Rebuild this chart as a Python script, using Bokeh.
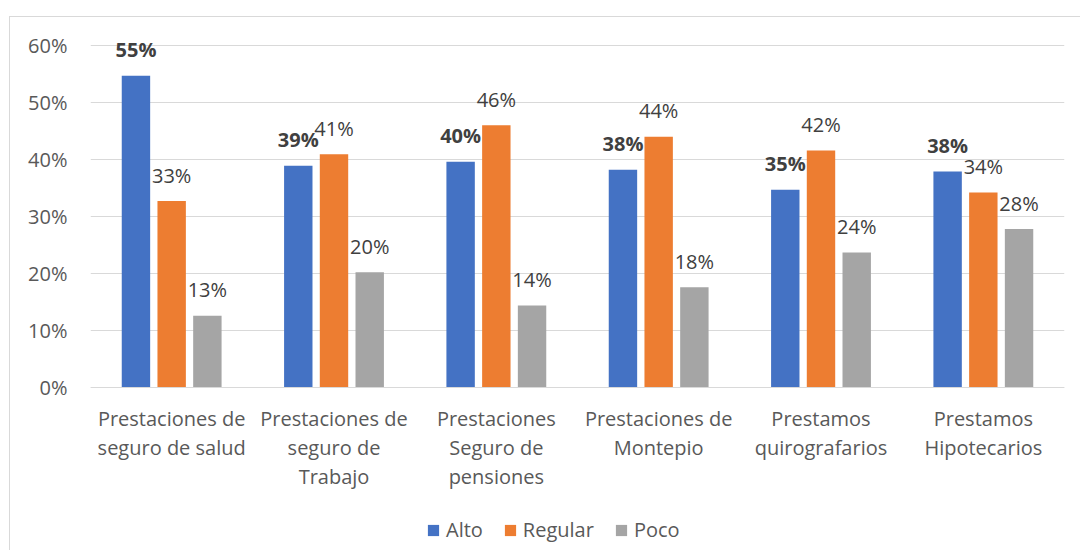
from bokeh.plotting import figure
from bokeh.models import FactorRange, Range1d, NumeralTickFormatter, FixedTicker, Legend, LegendItem, ColumnDataSource, Span
from bokeh.transform import dodge
from bokeh.core.properties import value
from bokeh.embed import file_html
from bokeh.resources import INLINE

categories = [
    "Prestaciones de seguro de salud",
    "Prestaciones de seguro de Trabajo",
    "Prestaciones Seguro de pensiones",
    "Prestaciones de Montepio",
    "Prestamos quirografarios",
    "Prestamos Hipotecarios",
]
tick_labels = [
    "Prestaciones de\nseguro de salud",
    "Prestaciones de\nseguro de\nTrabajo",
    "Prestaciones\nSeguro de\npensiones",
    "Prestaciones de\nMontepio",
    "Prestamos\nquirografarios",
    "Prestamos\nHipotecarios",
]
series_names = ["Alto", "Regular", "Poco"]
alto = [0.547, 0.389, 0.396, 0.382, 0.347, 0.379]
regular = [0.327, 0.409, 0.460, 0.440, 0.416, 0.342]
poco = [0.126, 0.202, 0.144, 0.176, 0.237, 0.278]
y_ticks = [0.0, 0.1, 0.2, 0.3, 0.4, 0.5, 0.6]

colors = ["#4472C4", "#ED7D31", "#A5A5A5"]
FONT = "Open Sans"


def pct(vals):
    return [f"{round(v * 100)}%" for v in vals]


src = ColumnDataSource(dict(
    cat=categories, tick=tick_labels, base=[0.0] * len(categories),
    alto=alto, regular=regular, poco=poco,
    alto_lbl=pct(alto), regular_lbl=pct(regular), poco_lbl=pct(poco),
))

# layout: 570 px per unit; 28 px above 60%, 164 px below 0 for labels and legend
PX_PER_UNIT = 342 / 0.6
HEIGHT = 534
Y_TOP = 0.6 + 28 / PX_PER_UNIT
Y_BOTTOM = -(HEIGHT - 28 - 342) / PX_PER_UNIT

p = figure(
    x_range=FactorRange(*categories, range_padding=0),
    y_range=Range1d(Y_BOTTOM, Y_TOP),
    width=1071, height=HEIGHT,
    output_backend="svg", toolbar_location=None,
    min_border_left=80, min_border_right=17, min_border_top=0, min_border_bottom=0,
)
p.styles = {
    "position": "relative", "left": "9px", "top": "16px",
    "border-left": "1px solid #d9d9d9", "border-top": "1px solid #d9d9d9",
}
p.outline_line_color = None
p.background_fill_color = "white"
p.border_fill_color = "white"

p.xaxis.visible = False
p.xgrid.grid_line_color = None
p.ygrid.grid_line_color = "#d9d9d9"
p.ygrid.grid_line_width = 1

p.yaxis.ticker = FixedTicker(ticks=y_ticks)
p.yaxis.formatter = NumeralTickFormatter(format="0%")
p.yaxis.axis_line_color = None
p.yaxis.major_tick_line_color = None
p.yaxis.minor_tick_line_color = None
p.yaxis.major_tick_out = 0
p.yaxis.major_label_standoff = 23
p.yaxis.major_label_text_font = FONT
p.yaxis.major_label_text_font_size = "20px"
p.yaxis.major_label_text_color = "#595959"

p.add_layout(Span(location=0, dimension="width", line_color="#d9d9d9", line_width=1))

offsets = [-0.22, 0.0, 0.22]
keys = ["alto", "regular", "poco"]
renderers = []
for key, off, col in zip(keys, offsets, colors):
    r = p.vbar(x=dodge("cat", off, range=p.x_range), top=key, width=0.175,
               source=src, fill_color=col, line_color=None)
    renderers.append(r)
    p.text(x=dodge("cat", off, range=p.x_range), y=key, text=key + "_lbl", source=src,
           text_font=value(FONT), text_font_size="20px",
           text_font_style="bold" if key == "alto" else "normal",
           text_color="#404040", text_align="center", text_baseline="alphabetic",
           y_offset=-26)

# category labels (multi-line) under the axis
p.text(x="cat", y="base", text="tick", source=src,
       text_font=value(FONT), text_font_size="20px", text_color="#595959",
       text_align="center", text_baseline="top", text_line_height=1.08,
       y_offset=17)

legend = Legend(
    items=[LegendItem(label=n, renderers=[r]) for n, r in zip(series_names, renderers)],
    orientation="horizontal", location=(336, 8),
    glyph_width=14, glyph_height=14, label_standoff=6, spacing=20,
    padding=0, margin=0, border_line_color=None, background_fill_alpha=0,
    label_text_font=FONT, label_text_font_size="20px", label_text_color="#595959",
)
p.add_layout(legend)

open("out.html", "w").write(file_html(p, INLINE))
